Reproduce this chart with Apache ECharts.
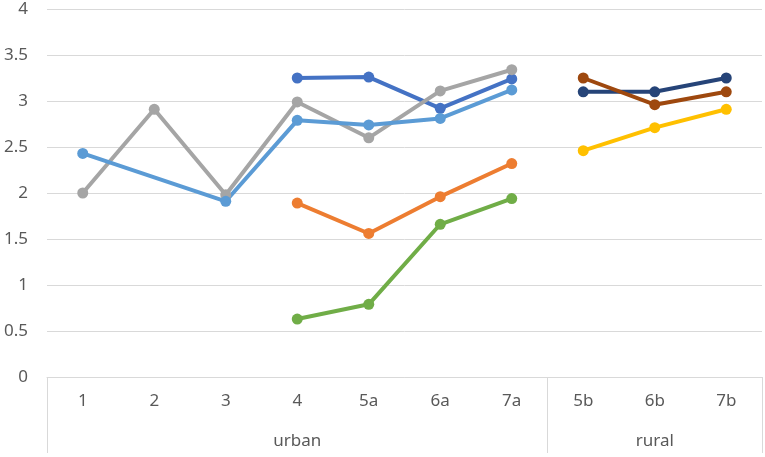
<!DOCTYPE html>
<html><head><meta charset="utf-8">
<script src="https://cdn.jsdelivr.net/npm/echarts@6/dist/echarts.min.js"></script>
<style>html,body{margin:0;padding:0;background:#fff}#c{width:765px;height:457px}</style>
</head><body><div id="c"></div>
<script>
var categories = ['1','2','3','4','5a','6a','7a','5b','6b','7b'];
var groups = ['urban','rural'];
var groupSizes = [7,3];
var yTicks = [0,0.5,1,1.5,2,2.5,3,3.5,4];

var sBlue      = [null,null,null,3.25,3.26,2.92,3.24,null,null,null];
var sOrange    = [null,null,null,1.89,1.56,1.96,2.32,null,null,null];
var sGray      = [2.00,2.91,1.98,2.99,2.60,3.11,3.34,null,null,null];
var sYellow    = [null,null,null,null,null,null,null,2.46,2.71,2.91];
var sLightBlue = [2.43,null,1.91,2.79,2.74,2.81,3.12,null,null,null];
var sGreen     = [null,null,null,0.63,0.79,1.66,1.94,null,null,null];
var sNavy      = [null,null,null,null,null,null,null,3.10,3.10,3.25];
var sBrown     = [null,null,null,null,null,null,null,3.25,2.96,3.10];

var seriesList = [
  {data:sBlue, color:'#4472C4'},
  {data:sOrange, color:'#ED7D31'},
  {data:sGray, color:'#A5A5A5'},
  {data:sYellow, color:'#FFC000'},
  {data:sLightBlue, color:'#5B9BD5', connect:true},
  {data:sGreen, color:'#70AD47'},
  {data:sNavy, color:'#264478'},
  {data:sBrown, color:'#9E480E'}
];

// group boundaries and centres from group sizes
var bounds = [0], centres = [], acc = 0;
groupSizes.forEach(function(n){ centres.push(acc + n/2); acc += n; bounds.push(acc); });

var font = 'Noto Sans';
var fs = 17;
var chart = echarts.init(document.getElementById('c'));
chart.setOption({
  animation:false,
  grid:{left:47,right:3,top:9,bottom:80},
  xAxis:[{
    type:'category', data:categories, boundaryGap:true,
    axisLine:{show:true,lineStyle:{color:'#d9d9d9',width:1}},
    axisTick:{show:false},
    axisLabel:{color:'#595959',fontSize:fs,fontFamily:font,margin:16}
  },{
    type:'value', min:0, max:categories.length, position:'bottom',
    axisLine:{show:false},
    splitLine:{show:false},
    axisTick:{show:true, customValues:bounds, length:76, lineStyle:{color:'#d9d9d9',width:1}},
    axisLabel:{show:true, customValues:centres, color:'#595959',fontSize:fs,fontFamily:font,margin:56,
      formatter:function(v){ var i = centres.indexOf(v); return i>=0 ? groups[i] : ''; }}
  }],
  yAxis:{
    type:'value', min:0, max:4, interval:0.5,
    axisLine:{show:false}, axisTick:{show:false},
    splitLine:{lineStyle:{color:'#d9d9d9',width:1}},
    axisLabel:{color:'#595959',fontSize:fs,fontFamily:font,margin:19}
  },
  series: seriesList.map(function(s){
    return {
      type:'line', data:s.data, xAxisIndex:0, connectNulls:!!s.connect,
      symbol:'circle', symbolSize:11,
      lineStyle:{color:s.color,width:4},
      itemStyle:{color:s.color},
      emphasis:{disabled:true}
    };
  })
});
</script></body></html>
